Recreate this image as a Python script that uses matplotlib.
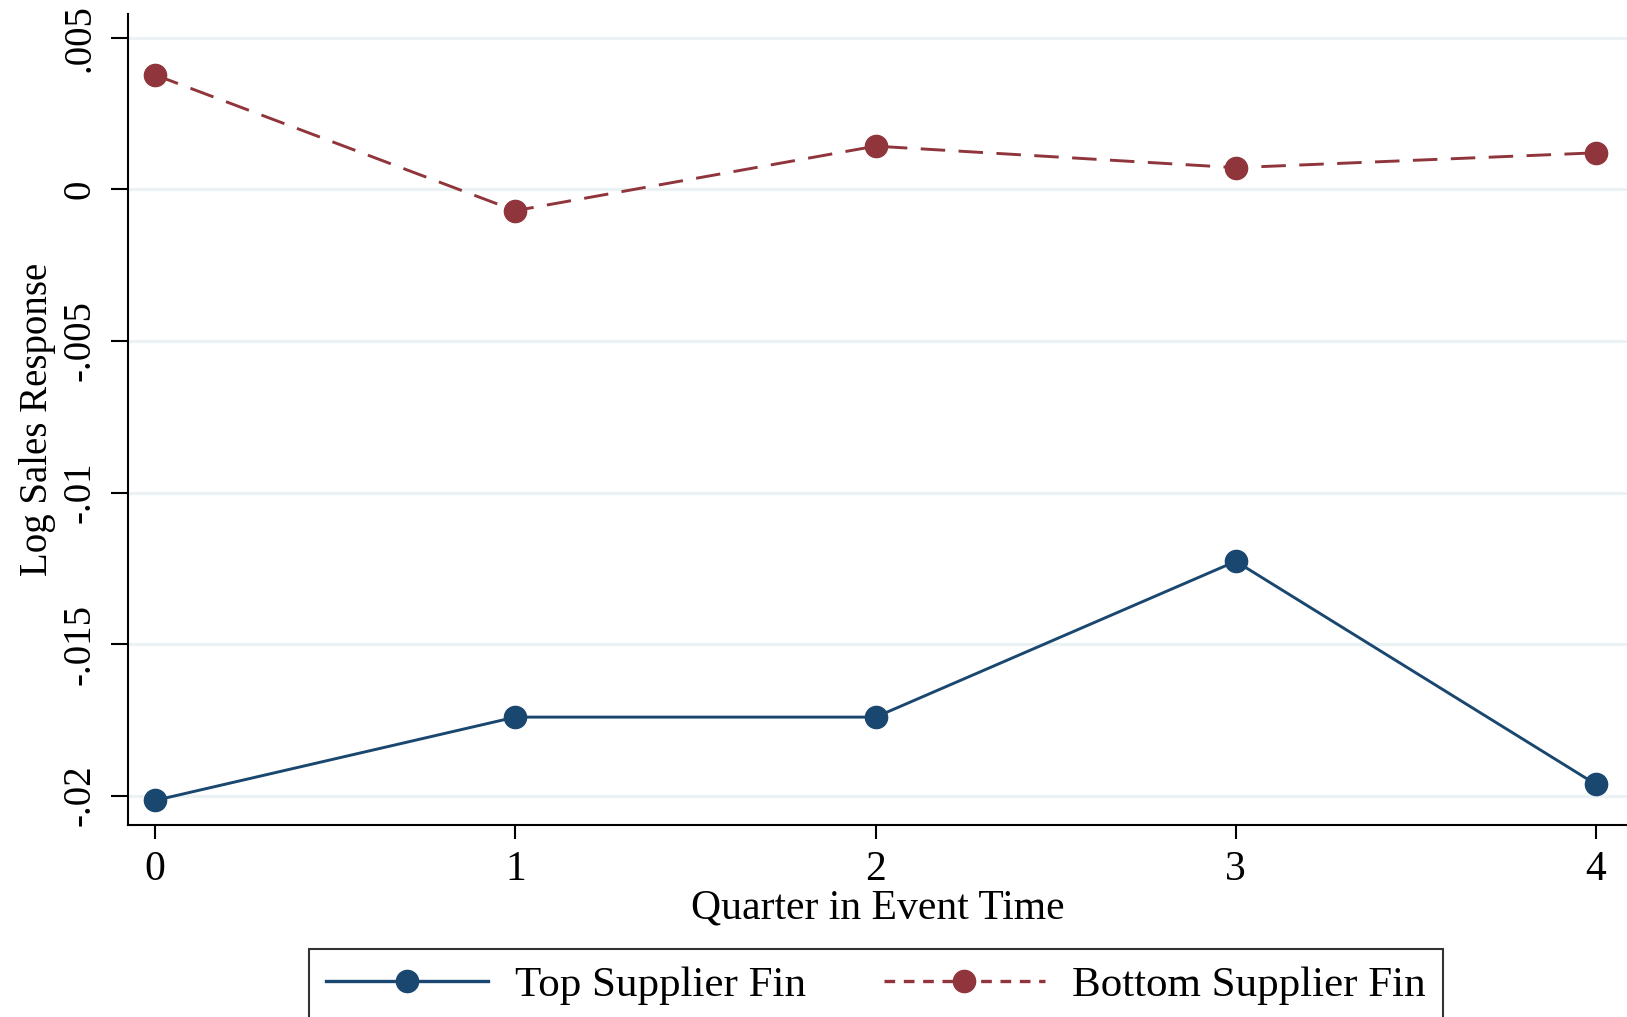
import numpy as np
import matplotlib.pyplot as plt
from matplotlib.lines import Line2D

quarters = [0, 1, 2, 3, 4]
top_fin = [-0.02016, -0.01741, -0.01741, -0.01227, -0.01963]
bottom_fin = [0.00378, -0.0007, 0.00143, 0.00072, 0.00121]
yticks = [0.005, 0, -0.005, -0.01, -0.015, -0.02]
ytick_labels = [".005", "0", "-.005", "-.01", "-.015", "-.02"]

navy = "#1a476f"
maroon = "#90353b"
grid_col = "#eaf2f3"

plt.rcParams['font.family'] = ['Liberation Serif', 'DejaVu Serif']

fig = plt.figure(figsize=(16.27, 10.17), dpi=100)
ax = fig.add_axes([0.07867, 0.18879, 0.92133, 0.79744])

ax.plot(quarters, top_fin, color=navy, lw=2.1, marker='o', ms=16,
        label="Top Supplier Fin", zorder=3)
ax.plot(quarters, bottom_fin, color=maroon, lw=2.1, marker='o', ms=16,
        dashes=(8.4, 4.6), label="Bottom Supplier Fin", zorder=3)

ax.set_xlim(-0.075, 4.086)
ax.set_ylim(-0.02097, 0.00579)
ax.set_xticks(quarters)
ax.set_yticks(yticks)
ax.set_yticklabels(ytick_labels, rotation=90, va='center')
ax.grid(axis='y', color=grid_col, lw=2.2, zorder=0)
ax.set_axisbelow(True)

for s in ['top', 'right']:
    ax.spines[s].set_visible(False)
for s in ['left', 'bottom']:
    ax.spines[s].set_linewidth(1.5)

ax.tick_params(axis='y', length=12, width=1.5, pad=9, labelsize=28)
ax.tick_params(axis='x', length=10, width=1.5, pad=8, labelsize=30)

ax.set_xlabel("Quarter in Event Time", fontsize=30, labelpad=0)
ax.set_ylabel("Log Sales Response", fontsize=28, labelpad=4)

handles = [Line2D([], [], color=navy, lw=2.4, marker='o', ms=16),
           Line2D([], [], color=maroon, lw=2.4, marker='o', ms=16, dashes=(3.2, 2.6))]
leg = fig.legend(handles, ["Top Supplier Fin", "Bottom Supplier Fin"],
                 loc='upper center', bbox_to_anchor=(0.5385, 0.0669), ncol=2,
                 fontsize=31, frameon=True, fancybox=False, edgecolor='black',
                 handlelength=3.75, handletextpad=0.63, columnspacing=1.8,
                 borderpad=0.4, borderaxespad=0)
leg.get_frame().set_linewidth(1.5)

fig.savefig("out.png", dpi=100)
